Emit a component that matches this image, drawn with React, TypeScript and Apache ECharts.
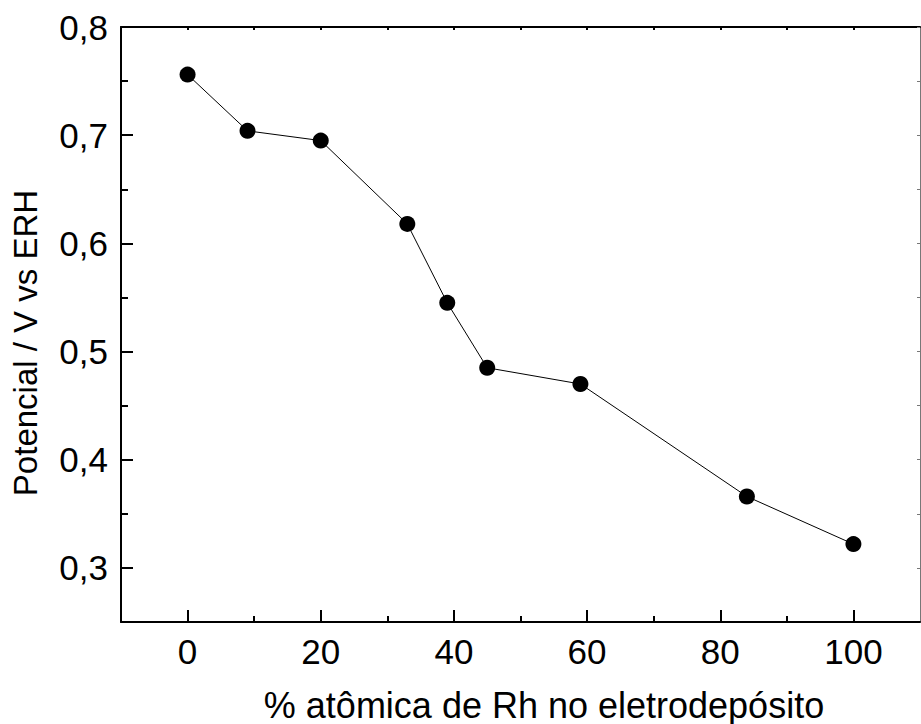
import React, { useEffect, useRef } from "react";
import * as echarts from "echarts";

// Rh content of the electrodeposit (atomic %) and the measured potential (V vs ERH)
const rhPercent = [0, 9, 20, 33, 39, 45, 59, 84, 100];
const potential = [0.756, 0.704, 0.695, 0.618, 0.545, 0.485, 0.47, 0.366, 0.322];

// Tick positions
const xMajorTicks = [0, 20, 40, 60, 80, 100];
const xMinorTicks = [10, 30, 50, 70, 90];
const xAllTicks = [0, 10, 20, 30, 40, 50, 60, 70, 80, 90, 100];
const yMajorTicks = [0.3, 0.4, 0.5, 0.6, 0.7, 0.8];
const yMinorTicks = [0.35, 0.45, 0.55, 0.65, 0.75];
const yAllTicks = [0.3, 0.35, 0.4, 0.45, 0.5, 0.55, 0.6, 0.65, 0.7, 0.75, 0.8];

const xTitle = "% atômica de Rh no eletrodepósito";
const yTitle = "Potencial / V vs ERH";

const FONT = "'Liberation Sans', Arial, sans-serif";
const X_MIN = -10;
const X_MAX = 110;
const Y_MIN = 0.25;
const Y_MAX = 0.8;

export default function App() {
  const ref = useRef<HTMLDivElement>(null);

  useEffect(() => {
    if (!ref.current) return;
    const chart = echarts.init(ref.current, undefined, { renderer: "svg" });

    const hidden = { show: false };
    const blackLine = { show: true, lineStyle: { color: "#000", width: 2 } };

    const option: echarts.EChartsOption = {
      animation: false,
      backgroundColor: "#fff",
      grid: { left: 121, top: 27, right: 1, bottom: 102, containLabel: false },
      xAxis: [
        {
          // bottom axis with labels and major ticks
          type: "value",
          position: "bottom",
          min: X_MIN,
          max: X_MAX,
          axisLine: { ...blackLine, onZero: false },
          axisTick: {
            show: true,
            inside: true,
            length: 12,
            customValues: xMajorTicks,
            lineStyle: { color: "#000", width: 2 },
          },
          axisLabel: {
            show: true,
            customValues: xMajorTicks,
            margin: 12,
            color: "#000",
            fontFamily: FONT,
            fontSize: 35,
          },
          splitLine: hidden,
        },
        {
          // bottom minor ticks
          type: "value",
          position: "bottom",
          min: X_MIN,
          max: X_MAX,
          axisLine: { show: false, onZero: false },
          axisTick: {
            show: true,
            inside: true,
            length: 6,
            customValues: xMinorTicks,
            lineStyle: { color: "#000", width: 2 },
          },
          axisLabel: { show: false },
          splitLine: hidden,
        },
        {
          // top frame
          type: "value",
          position: "top",
          min: X_MIN,
          max: X_MAX,
          axisLine: { ...blackLine, onZero: false },
          axisTick: {
            show: true,
            inside: true,
            length: 3,
            customValues: xAllTicks,
            lineStyle: { color: "#000", width: 2 },
          },
          axisLabel: { show: false },
          splitLine: hidden,
        },
      ],
      yAxis: [
        {
          type: "value",
          position: "left",
          min: Y_MIN,
          max: Y_MAX,
          axisLine: { ...blackLine, onZero: false },
          axisTick: {
            show: true,
            inside: true,
            length: 12,
            customValues: yMajorTicks,
            lineStyle: { color: "#000", width: 2 },
          },
          axisLabel: {
            show: true,
            customValues: yMajorTicks,
            margin: 13,
            color: "#000",
            fontFamily: FONT,
            fontSize: 35,
            formatter: (v: number) => v.toFixed(1).replace(".", ","),
          },
          splitLine: hidden,
        },
        {
          // left minor ticks
          type: "value",
          position: "left",
          min: Y_MIN,
          max: Y_MAX,
          axisLine: { show: false, onZero: false },
          axisTick: {
            show: true,
            inside: true,
            length: 7,
            customValues: yMinorTicks,
            lineStyle: { color: "#000", width: 2 },
          },
          axisLabel: { show: false },
          splitLine: hidden,
        },
        {
          // right frame
          type: "value",
          position: "right",
          min: Y_MIN,
          max: Y_MAX,
          axisLine: { show: true, onZero: false, lineStyle: { color: "#777", width: 1 } },
          axisTick: {
            show: true,
            inside: true,
            length: 3,
            customValues: yAllTicks,
            lineStyle: { color: "#777", width: 1 },
          },
          axisLabel: { show: false },
          splitLine: hidden,
        },
      ],
      series: [
        {
          type: "line",
          xAxisIndex: 0,
          yAxisIndex: 0,
          data: rhPercent.map((x, i) => [x, potential[i]]),
          symbol: "circle",
          symbolSize: 16,
          itemStyle: { color: "#000" },
          lineStyle: { color: "#000", width: 1 },
          z: 5,
        },
      ],
      graphic: [
        {
          type: "text",
          x: 544,
          y: 705,
          style: {
            text: xTitle,
            fontFamily: FONT,
            fontSize: 36,
            fill: "#000",
            align: "center",
            verticalAlign: "middle",
          },
        },
        {
          type: "text",
          x: 25,
          y: 343,
          rotation: Math.PI / 2,
          style: {
            text: yTitle,
            fontFamily: FONT,
            fontSize: 33,
            fill: "#000",
            align: "center",
            verticalAlign: "middle",
          },
        },
      ],
    };

    chart.setOption(option);
    return () => chart.dispose();
  }, []);

  return (
    <div
      ref={ref}
      style={{ position: "absolute", left: 0, top: 0, width: 921, height: 724 }}
    />
  );
}
